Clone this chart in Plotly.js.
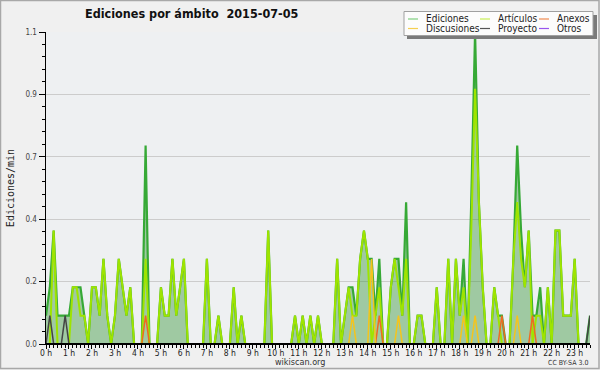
<!DOCTYPE html>
<html><head><meta charset="utf-8">
<script src="https://cdn.plot.ly/plotly-3.0.1.min.js"></script>
<style>html,body{margin:0;padding:0;background:#f0f0f0}#chart{width:600px;height:370px}</style>
</head><body><div id="chart"></div>
<script>
// 10-minute bins, values in edits per minute
const binMinutes = 10;
const ediciones = [
 0.1,0.2,0.4,0.1,0.1,0.1,0.1,0.2,0.2,0.2,
 0.1,0,0.2,0.2,0.1,0.3,0.1,0,0.1,0.3,
 0.2,0.1,0.2,0,0,0,0.7,0,0,0,
 0.2,0.1,0.1,0.3,0.1,0.2,0.3,0,0,0,
 0,0,0.3,0,0,0.1,0,0,0,0.2,
 0,0.1,0,0,0,0,0,0,0.4,0,
 0,0,0,0,0,0.1,0,0.1,0,0.1,
 0,0.1,0,0,0,0,0.3,0,0.1,0.2,
 0.2,0.1,0.3,0.4,0.3,0.3,0.1,0.3,0,0,
 0.2,0.3,0.3,0.1,0.5,0,0,0.1,0.1,0,
 0,0,0.2,0,0,0.3,0,0.3,0.1,0.3,
 0,0.5,1.1,0.5,0.2,0,0,0.2,0.1,0.1,
 0,0,0.3,0.7,0.4,0.2,0.4,0.1,0.1,0.2,
 0,0.2,0,0.4,0.4,0.1,0.1,0.1,0.3,0,
 0,0,0.1];
const articulos = [
 0,0,0.4,0,0,0,0,0.2,0.2,0.1,
 0.1,0,0.2,0.2,0.1,0.3,0.1,0,0.1,0.3,
 0.2,0.1,0.2,0,0,0,0.3,0,0,0,
 0.2,0.1,0.1,0.3,0.1,0.2,0.3,0,0,0,
 0,0,0.3,0,0,0.1,0,0,0,0.2,
 0,0.1,0,0,0,0,0,0,0.4,0,
 0,0,0,0,0,0.1,0,0.1,0,0.1,
 0,0.1,0,0,0,0,0.3,0,0.1,0.2,
 0.1,0.1,0.3,0.4,0.3,0,0.1,0.2,0,0,
 0.2,0.3,0.2,0.1,0.3,0,0,0.1,0.1,0,
 0,0,0.2,0,0,0.3,0,0.3,0.1,0.2,
 0,0.4,0.9,0.5,0.2,0,0,0.2,0.1,0,
 0,0,0.3,0.5,0.3,0.2,0.4,0,0.1,0.1,
 0,0.2,0,0.4,0.4,0.1,0.1,0.1,0.3,0,
 0,0,0];
const anexos = [
 0,0,0,0,0,0,0,0,0,0,
 0,0,0,0,0,0,0,0,0,0,
 0,0,0,0,0,0,0.1,0,0,0,
 0,0,0,0,0,0,0,0,0,0,
 0,0,0,0,0,0,0,0,0,0,
 0,0,0,0,0,0,0,0,0,0,
 0,0,0,0,0,0,0,0,0,0,
 0,0,0,0,0,0,0,0,0,0,
 0,0,0,0,0,0,0,0.1,0,0,
 0,0,0,0,0,0,0,0,0,0,
 0,0,0,0,0,0,0,0,0,0,
 0,0,0,0,0,0,0,0,0,0.1,
 0,0,0,0,0,0,0,0.1,0,0,
 0,0,0,0,0,0,0,0,0,0,
 0,0,0];
const discusiones = [
 0,0,0,0,0,0,0,0,0,0,
 0,0,0,0,0,0,0,0,0,0,
 0,0,0,0,0,0,0,0,0,0,
 0,0,0,0,0,0,0,0,0,0,
 0,0,0,0,0,0,0,0,0,0,
 0,0,0,0,0,0,0,0,0,0,
 0,0,0,0,0,0,0,0,0,0,
 0,0,0,0,0,0,0,0,0,0,
 0.1,0,0,0,0,0.3,0,0,0,0,
 0,0,0.1,0,0,0,0,0,0,0,
 0,0,0,0,0,0,0,0,0,0.1,
 0,0,0.1,0,0,0,0,0,0,0,
 0,0,0,0.1,0,0,0,0,0,0,
 0,0,0,0,0,0,0,0,0,0,
 0,0,0];
const proyecto = [
 0,0.1,0,0,0,0.1,0,0,0,0,
 0,0,0,0,0,0,0,0,0,0,
 0,0,0,0,0,0,0,0,0,0,
 0,0,0,0,0,0,0,0,0,0,
 0,0,0,0,0,0,0,0,0,0,
 0,0,0,0,0,0,0,0,0,0,
 0,0,0,0,0,0,0,0,0,0,
 0,0,0,0,0,0,0,0,0,0,
 0,0,0,0,0,0,0,0,0,0,
 0,0,0,0,0,0,0,0,0,0,
 0,0,0,0,0,0,0,0,0,0,
 0,0,0,0,0,0,0,0,0,0,
 0,0,0,0,0,0,0,0,0,0,
 0,0,0,0,0,0,0,0,0,0,
 0,0,0.1];
const otros = [
 0,0,0,0,0,0,0,0,0,0,
 0,0,0,0,0,0,0,0,0,0,
 0,0,0,0,0,0,0,0,0,0,
 0,0,0,0,0,0,0,0,0,0,
 0,0,0,0,0,0,0,0,0,0,
 0,0,0,0,0,0,0,0,0,0,
 0,0,0,0,0,0,0,0,0,0,
 0,0,0,0,0,0,0,0,0,0,
 0,0,0,0,0,0,0,0,0,0,
 0,0,0,0,0,0,0,0,0,0,
 0,0,0,0,0,0,0,0,0,0,
 0,0,0,0,0,0,0,0,0,0,
 0,0,0,0,0,0,0,0,0,0,
 0,0,0,0,0,0,0,0,0,0,
 0,0,0];
const seriesNames = ['Ediciones','Artículos','Anexos','Discusiones','Proyecto','Otros'];
const yTickVals = [0, 0.22, 0.44, 0.66, 0.88, 1.1];
const yTickText = ['0.0','0.2','0.4','0.7','0.9','1.1'];
const titleText = 'Ediciones por ámbito\u00a0 2015-07-05';
const yTitle = 'Ediciones/min';
const footerText = 'wikiscan.org';
const licenseText = 'CC BY-SA 3.0';

// styles
const seriesColors = ['#36a936','#9ee400','#ee6a22','#f5c41c','#444444','#8d45f0'];
const legendColors = ['#7fcf7f','#c8ee55','#f08a50','#f5cf50','#555555','#9955ee'];
const lineWidths = [2.2, 2, 1.5, 1.5, 1.5, 1.5];
const sans = '"DejaVu Sans Condensed", "DejaVu Sans", sans-serif';
const M = {l:46, r:10, t:32, b:26};
const W = 600, H = 370;
const PW = W - M.l - M.r, PH = H - M.t - M.b;
const px = v => (v - M.l) / PW;
const py = v => (H - M.b - v) / PH;

const data = [ediciones, articulos, anexos, discusiones, proyecto, otros];
const hours = ediciones.map((_, i) => i * binMinutes / 60);
const traces = data.map((vals, k) => ({
  type: 'scatter', mode: 'lines', x: hours, y: vals, name: seriesNames[k],
  line: {color: seriesColors[k], width: lineWidths[k]},
  fill: k === 0 ? 'tozeroy' : 'none',
  fillcolor: 'rgba(60,150,60,0.44)',
  showlegend: false, hoverinfo: 'skip'
}));

// legend (3 columns x 2 rows) drawn as shapes + text
const legendCols = [[0,3],[1,4],[2,5]];
const colX = [408, 480, 539];
const rowY = [19, 28.5];
const shapes = [
  {type:'rect', xref:'paper', yref:'paper', x0:px(0.5), x1:px(599), y0:py(0.5), y1:py(368.5),
   line:{color:'#a8a8a8', width:1.5}, fillcolor:'rgba(0,0,0,0)', layer:'above'},
  {type:'rect', xref:'paper', yref:'paper', x0:px(407), x1:px(597), y0:py(15), y1:py(39),
   line:{width:0}, fillcolor:'#7a7a7a', layer:'above'},
  {type:'rect', xref:'paper', yref:'paper', x0:px(404), x1:px(593), y0:py(11.5), y1:py(35.5),
   line:{color:'#a0a0a0', width:1}, fillcolor:'#fcfcfc', layer:'above'},
  {type:'line', xref:'paper', yref:'y', x0:0, x1:1, y0:0, y1:0,
   line:{color:'#000', width:2}, layer:'above'}
];
const annotations = [
  {text: footerText, xref:'paper', yref:'paper', x:px(300), y:py(362), xanchor:'center', yanchor:'middle',
   showarrow:false, font:{family:sans, size:9, color:'#333'}},
  {text: licenseText, xref:'paper', yref:'paper', x:px(590), y:py(363), xanchor:'right', yanchor:'middle',
   showarrow:false, font:{family:sans, size:7, color:'#333'}}
];
legendCols.forEach((col, c) => col.forEach((k, r) => {
  shapes.push({type:'line', xref:'paper', yref:'paper', x0:px(colX[c]), x1:px(colX[c]+10),
    y0:py(rowY[r]), y1:py(rowY[r]), line:{color:legendColors[k], width:1.2}, layer:'above'});
  annotations.push({text: seriesNames[k], xref:'paper', yref:'paper', x:px(colX[c]+16), y:py(rowY[r]),
    xanchor:'left', yanchor:'middle', showarrow:false, font:{family:sans, size:10, color:'#222'}});
}));

const layout = {
  width: W, height: H, margin: M,
  paper_bgcolor: '#f0f0f0', plot_bgcolor: '#eef0f2',
  title: {text: '<b>' + titleText + '</b>', xref:'container', yref:'container', x: 85/W, xanchor:'left',
          y: 1 - 14/H, yanchor:'middle', font:{family:sans, size:12.5, color:'#111'}},
  xaxis: {range:[0, (ediciones.length - 1) * binMinutes / 60], tickmode:'linear', tick0:0, dtick:1,
          ticksuffix:' h', ticks:'outside', ticklen:4, tickcolor:'#000', showgrid:false, zeroline:false,
          showline:true, linecolor:'#000', linewidth:1, ticklabelstandoff:-3,
          tickfont:{family:sans, size:8.5, color:'#222'},
          minor:{tickmode:'linear', tick0:0, dtick:binMinutes/60, ticks:'outside', ticklen:3, tickcolor:'#000', showgrid:false}},
  yaxis: {range:[0, 1.1], tickmode:'array', tickvals:yTickVals, ticktext:yTickText,
          ticks:'outside', ticklen:6, tickcolor:'#000', showgrid:true, gridcolor:'#cccccc', gridwidth:1,
          zeroline:false, showline:true, linecolor:'#000', linewidth:1.5,
          tickfont:{family:sans, size:8, color:'#444'},
          title:{text:yTitle, standoff:9, font:{family:'"DejaVu Sans Mono", monospace', size:10, color:'#222'}},
          minor:{tickmode:'linear', tick0:0, dtick:0.044, ticks:'outside', ticklen:3, tickcolor:'#000', showgrid:false}},
  shapes: shapes, annotations: annotations, showlegend:false
};
Plotly.newPlot('chart', traces, layout, {displayModeBar:false, staticPlot:true});
</script></body></html>
